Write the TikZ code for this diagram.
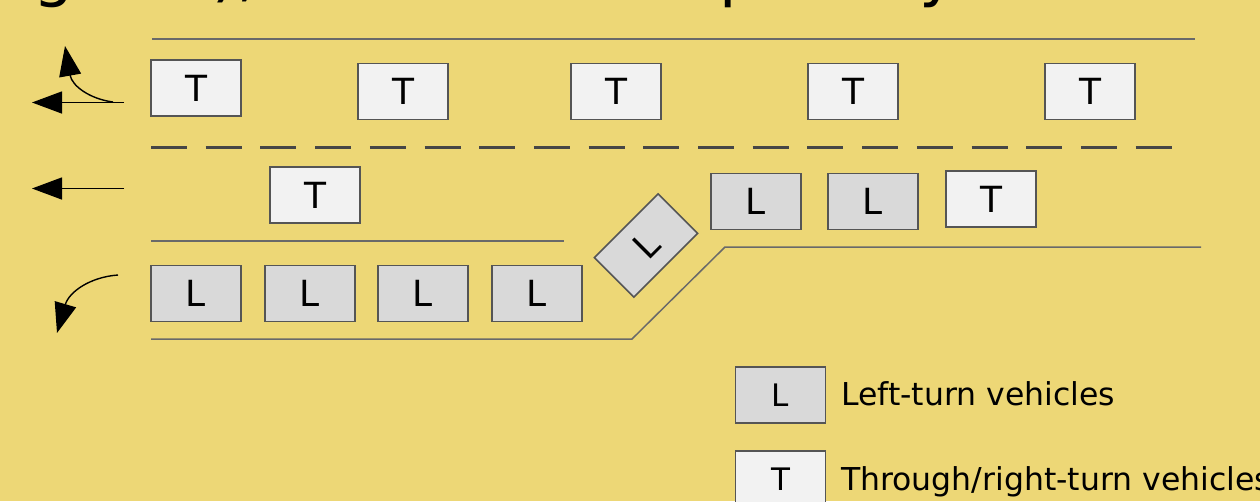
\documentclass[tikz,border=0pt]{standalone}
\usepackage{fontspec}
\setmainfont{DejaVu Sans}
\usetikzlibrary{arrows.meta}
\definecolor{bg}{RGB}{237,215,118}
\definecolor{roadline}{RGB}{105,105,105}
\definecolor{dashline}{RGB}{70,70,70}
\definecolor{boxedge}{RGB}{85,85,85}
\definecolor{lfill}{RGB}{217,217,217}
\definecolor{tfill}{RGB}{242,242,242}
\tikzset{
  veh/.style={draw=boxedge, line width=1.6pt, minimum width=90pt, minimum height=56pt, inner sep=0pt, font=\fontsize{36}{36}\selectfont},
  lveh/.style={veh, fill=lfill},
  tveh/.style={veh, fill=tfill},
  legveh/.style={veh, font=\fontsize{31}{31}\selectfont},
  legtext/.style={anchor=base west, inner sep=0pt, font=\fontsize{31.5}{31.5}\selectfont},
  road/.style={draw=roadline, line width=1.5pt},
  lanedash/.style={draw=dashline, line width=3pt, dash pattern=on 36pt off 18.7pt},
  movearrow/.style={draw=black, line width=1.4pt, -{Triangle[length=30pt,width=22pt]}},
  frag/.style={anchor=base west, inner sep=0pt, font=\fontsize{64}{64}\selectfont}
}
\begin{document}
\begin{tikzpicture}[x=1pt,y=-1pt]
\fill[bg] (0,0) rectangle (1260,501);
\useasboundingbox (0,0) rectangle (1260,501);
\begin{scope}
\clip (0,0) rectangle (1260,501);
% clipped title fragments
\node[frag] (f1) at (33,-6) {g};
\node[frag] (f2) at (212,-6) {),};
\node[frag] (f3) at (719,-6) {p};
\node[frag] (f4) at (919,-6) {y};

% road lines
\coordinate (topL) at (152,39);
\coordinate (topR) at (1195,39);
\draw[road] (topL) -- (topR);
\coordinate (dashL) at (151,147);
\coordinate (dashR) at (1172,147);
\draw[lanedash] (dashL) -- (dashR);
\coordinate (midL) at (151,241);
\coordinate (midR) at (564,241);
\draw[road] (midL) -- (midR);
\coordinate (botL) at (151,339);
\coordinate (botK1) at (632,339);
\coordinate (botK2) at (725,247);
\coordinate (botR) at (1201,247);
\draw[road] (botL) -- (botK1) -- (botK2) -- (botR);

% row 1 through vehicles
\node[tveh] (t1) at (196,88) {T};
\node[tveh] (t2) at (403,91.5) {T};
\node[tveh] (t3) at (616,91.5) {T};
\node[tveh] (t4) at (853,91.5) {T};
\node[tveh] (t5) at (1090,91.5) {T};

% row 2
\node[tveh] (t6) at (315,195) {T};
\node[lveh] (l5) at (756,201.5) {L};
\node[lveh] (l6) at (873,201.5) {L};
\node[tveh] (t7) at (991,199) {T};
\node[lveh, rotate=45] (l7) at (646,245.5) {L};

% row 3 left-turn bay
\node[lveh] (l1) at (196,293.5) {L};
\node[lveh] (l2) at (310,293.5) {L};
\node[lveh] (l3) at (423,293.5) {L};
\node[lveh] (l4) at (537,293.5) {L};

% movement arrows
\coordinate (a1s) at (124,102.5);
\coordinate (a1e) at (32,102.5);
\draw[movearrow] (a1s) -- (a1e);
\coordinate (a2s) at (113,102);
\coordinate (a2e) at (65,46);
\draw[movearrow] (a2s) .. controls (90,99) and (72,86) .. (a2e);
\coordinate (a3s) at (124,188.5);
\coordinate (a3e) at (32,188.5);
\draw[movearrow] (a3s) -- (a3e);
\coordinate (a4s) at (118,275);
\coordinate (a4e) at (57,333);
\draw[movearrow] (a4s) .. controls (90,277) and (69,292) .. (a4e);

% legend
\node[legveh, fill=lfill] (legL) at (780.5,395) {L};
\node[legtext] (legLt) at (841,405) {Left-turn vehicles};
\node[legveh, fill=tfill] (legT) at (780.5,479) {T};
\node[legtext] (legTt) at (841,490) {Through/right-turn vehicles};
\end{scope}
\end{tikzpicture}
\end{document}
